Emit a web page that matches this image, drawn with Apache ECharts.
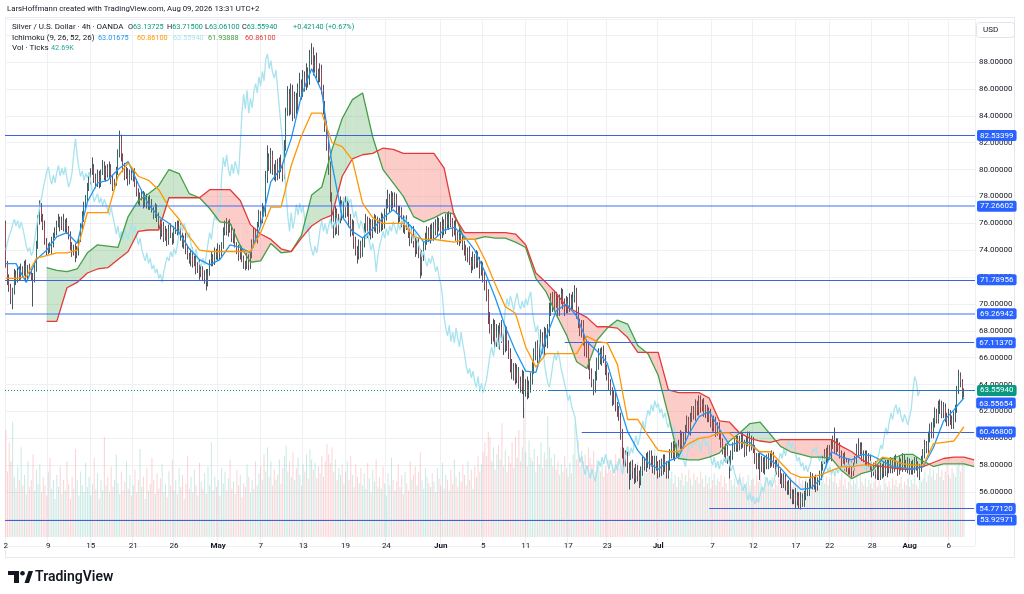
<!DOCTYPE html>
<html lang="en">
<head>
<meta charset="UTF-8">
<title>Silver / U.S. Dollar 4h</title>
<script src="https://cdn.jsdelivr.net/npm/echarts@6/dist/echarts.min.js"></script>
<style>
html,body{margin:0;padding:0;background:#fff;}
#chart{width:1024px;height:594px;}
</style>
</head>
<body>
<div id="chart"></div>
<script>
// 4h candles (open of each bar = close of the bar before)
var firstOpen = 76.0;
var closes = [
73.0,71.8,71.2,70.4,71.0,72.2,71.8,72.5,72.0,72.6,
72.3,72.9,72.1,72.7,72.4,72.0,71.9,72.6,74.4,76.2,
77.2,76.5,75.8,74.6,74.0,74.3,74.0,74.6,75.1,75.4,
75.9,76.3,75.8,76.2,75.6,76.1,75.6,75.0,74.3,73.9,
74.2,73.6,73.9,74.8,75.7,76.5,77.3,77.9,78.6,79.2,
79.8,80.2,79.4,78.9,79.6,79.0,79.8,80.3,79.5,80.1,
79.6,80.2,79.3,78.7,79.1,79.8,81.2,82.3,81.0,80.1,
79.5,79.9,79.2,79.7,79.4,79.8,79.1,78.3,77.6,77.9,
78.2,77.5,77.9,77.3,77.8,77.4,77.0,76.6,77.2,76.5,
75.9,75.2,75.8,74.9,75.4,74.7,75.6,75.1,74.8,75.5,
75.9,75.3,75.8,75.0,74.4,74.9,74.1,73.6,73.2,73.8,
73.0,73.4,72.6,72.9,72.3,72.6,71.9,72.2,71.6,72.4,
73.0,73.5,73.2,73.9,73.5,74.1,73.7,74.4,75.3,75.9,
75.4,76.0,75.5,74.9,75.3,74.4,74.0,73.6,74.1,73.3,
73.0,72.8,73.4,72.9,73.6,74.5,75.3,74.8,75.9,76.6,
76.2,77.1,76.8,79.4,80.9,80.2,81.1,80.0,79.5,80.4,
79.7,80.6,80.1,79.6,81.8,84.3,85.6,84.5,85.9,84.2,
85.3,84.6,85.8,86.4,85.7,86.9,86.2,87.3,86.6,88.2,
88.6,87.5,88.1,87.2,86.8,87.4,86.0,84.6,83.2,81.9,
80.1,78.0,76.5,75.4,76.8,75.6,76.3,77.4,76.6,77.5,
76.8,77.3,76.2,75.4,75.9,74.6,74.0,73.6,74.3,73.8,
74.6,75.6,76.2,75.4,76.0,75.2,75.8,76.3,75.6,76.1,
75.7,76.4,75.9,76.6,77.4,77.9,77.2,78.0,77.5,77.8,
77.0,76.4,76.9,76.1,75.6,76.2,75.8,75.3,74.8,75.4,
74.6,74.0,74.5,73.8,72.4,73.6,74.3,74.8,75.4,74.9,
75.6,75.1,75.8,75.4,76.1,75.7,75.2,76.0,75.5,76.3,
75.9,76.5,76.0,75.4,75.9,75.1,74.7,75.3,74.8,74.4,
74.0,73.5,73.9,73.2,72.8,73.4,73.0,73.6,73.1,72.4,
72.8,72.0,71.5,70.6,69.0,68.2,67.6,68.4,67.2,67.9,
67.1,68.2,67.5,66.8,67.9,67.0,66.3,65.4,64.8,65.2,
64.5,65.0,64.2,63.8,64.6,63.5,64.1,63.4,63.9,64.4,
65.3,66.2,66.8,66.1,66.9,67.5,66.7,67.8,67.2,68.0,
69.6,70.4,69.8,70.6,70.1,69.5,70.3,70.8,70.0,69.6,
70.2,69.7,70.4,69.9,70.5,70.9,69.4,68.6,67.9,68.4,
67.3,66.4,66.8,65.6,64.8,64.1,63.8,64.6,65.5,66.3,
65.8,66.5,65.9,65.1,64.6,64.0,63.5,62.8,63.2,62.4,
62.0,61.6,60.3,59.0,58.2,58.7,57.8,57.3,58.0,57.5,
57.0,57.7,57.2,56.8,57.6,58.3,57.9,58.6,58.1,58.8,
58.3,57.7,58.4,57.9,57.4,58.1,57.6,58.5,57.9,57.3,
58.0,58.8,59.4,58.7,59.3,58.9,59.6,60.2,59.5,60.0,
60.7,61.3,60.6,61.5,62.1,61.7,62.5,62.0,62.8,62.3,
62.6,61.9,62.2,61.5,61.9,61.2,60.8,61.3,60.5,60.9,
60.2,59.7,59.1,58.6,59.2,58.4,57.9,58.7,59.4,59.8,
59.3,59.9,59.5,60.1,59.6,59.0,59.7,60.2,59.4,59.8,
59.2,58.5,58.0,58.6,57.8,58.3,57.7,58.4,58.0,58.6,
58.2,58.7,58.1,57.6,58.0,57.4,57.0,56.6,57.1,56.5,
56.1,56.6,55.9,55.4,55.9,55.3,55.7,55.1,55.6,55.2,
55.8,56.4,56.0,56.7,57.1,56.5,56.9,56.4,56.8,57.3,
57.9,58.4,58.9,58.5,59.2,58.7,59.5,59.9,59.2,59.7,
59.3,58.8,58.3,58.6,57.9,58.2,57.6,58.0,57.5,57.9,
58.4,59.2,59.0,59.4,58.7,58.3,58.8,58.1,58.5,57.9,
57.5,57.9,57.3,57.7,57.2,57.8,57.4,58.0,57.5,58.1,
57.7,58.2,57.8,58.4,58.0,57.6,58.2,57.9,58.5,58.1,
57.8,58.2,57.6,58.0,57.7,58.3,57.9,57.5,57.8,58.4,
58.9,59.5,59.2,60.1,60.8,60.3,61.2,61.9,61.4,62.2,
62.5,61.8,62.3,61.6,61.2,61.8,61.4,61.0,61.6,62.2,
63.6,64.6,64.2,63.13725,63.5594
];
var wickUp = [
0.2,0.2,0.4,0.3,0.2,0.4,0.3,0.2,0.3,0.4, 0.2,0.3,0.4,0.2,0.3,0.2,0.3,0.4,0.3,0.4,
0.5,0.3,0.2,0.4,0.3,0.2,0.3,0.4,0.2,0.3, 0.3,0.4,0.2,0.3,0.5,0.2,0.3,0.2,0.4,0.3,
0.2,0.3,0.4,0.2,0.3,0.4,0.3,0.2,0.4,0.3, 0.3,0.7,0.2,0.3,0.4,0.3,0.2,0.4,0.3,0.2,
0.3,0.4,0.2,0.3,0.2,0.4,0.3,0.6,0.3,0.2, 0.4,0.3,0.2,0.3,0.4,0.2,0.3,0.2,0.3,0.4,
0.3,0.2,0.4,0.3,0.2,0.3,0.4,0.2,0.3,0.2, 0.3,0.4,0.2,0.3,0.4,0.2,0.3,0.4,0.2,0.3,
0.2,0.3,0.4,0.2,0.3,0.2,0.4,0.3,0.2,0.3, 0.4,0.2,0.3,0.2,0.4,0.3,0.2,0.3,0.4,0.2,
0.3,0.4,0.2,0.3,0.2,0.4,0.3,0.2,0.4,0.3, 0.5,0.2,0.3,0.4,0.2,0.3,0.2,0.4,0.3,0.2,
0.3,0.2,0.4,0.3,0.2,0.3,0.4,0.3,0.2,0.4, 0.3,0.4,0.2,0.5,0.9,0.3,0.5,0.3,0.4,0.3,
0.4,0.3,0.5,0.3,0.4,0.3,0.6,0.4,0.5,0.4, 0.5,0.4,0.6,0.8,0.3,0.5,0.4,0.6,0.3,0.7,
0.8,0.5,0.4,0.6,0.3,0.5,0.4,0.3,0.5,0.4, 0.4,0.5,0.3,0.4,0.5,0.3,0.4,0.6,0.3,0.4,
0.5,0.4,0.3,0.5,0.4,0.3,0.4,0.3,0.5,0.4, 0.3,0.4,0.5,0.3,0.4,0.3,0.5,0.4,0.3,0.4,
0.3,0.4,0.3,0.5,0.4,0.6,0.3,0.4,0.3,0.5, 0.4,0.3,0.4,0.3,0.5,0.3,0.4,0.3,0.4,0.3,
0.4,0.3,0.5,0.4,0.3,0.4,0.3,0.5,0.4,0.3, 0.3,0.4,0.3,0.5,0.4,0.3,0.4,0.5,0.3,0.4,
0.5,0.4,0.3,0.4,0.3,0.4,0.3,0.4,0.3,0.4, 0.3,0.4,0.3,0.4,0.3,0.5,0.3,0.4,0.3,0.4,
0.4,0.3,0.4,0.3,0.5,0.4,0.3,0.5,0.4,0.6, 0.5,0.4,0.6,0.3,0.5,0.4,0.3,0.4,0.5,0.4,
0.4,0.5,0.3,0.4,0.5,0.4,0.3,0.5,0.4,0.5, 0.4,0.5,0.4,0.5,0.4,0.6,0.4,0.5,0.4,0.5,
0.5,0.4,0.5,0.4,0.3,0.5,0.4,0.4,0.3,0.4, 0.4,0.3,0.4,0.3,0.4,0.5,0.3,0.4,0.3,0.4,
0.4,0.3,0.5,0.4,0.3,0.4,0.3,0.4,0.5,0.4, 0.4,0.3,0.4,0.3,0.4,0.3,0.4,0.3,0.4,0.3,
0.3,0.4,0.3,0.4,0.3,0.4,0.3,0.4,0.3,0.4, 0.3,0.4,0.3,0.4,0.3,0.4,0.3,0.3,0.4,0.3,
0.3,0.4,0.3,0.3,0.4,0.3,0.4,0.3,0.3,0.4, 0.3,0.4,0.3,0.4,0.3,0.4,0.3,0.4,0.3,0.4,
0.3,0.4,0.3,0.4,0.3,0.3,0.4,0.3,0.4,0.4, 0.3,0.4,0.3,0.3,0.4,0.3,0.3,0.4,0.3,0.3,
0.3,0.4,0.3,0.3,0.4,0.3,0.3,0.4,0.3,0.3, 0.4,0.3,0.3,0.4,0.3,0.3,0.4,0.3,0.3,0.4,
0.3,0.3,0.4,0.3,0.3,0.4,0.3,0.3,0.4,0.3, 0.3,0.4,0.3,0.3,0.4,0.3,0.3,0.4,0.3,0.3,
0.3,0.3,0.4,0.3,0.3,0.4,0.3,0.3,0.4,0.3, 0.3,0.4,0.3,0.3,0.4,0.3,0.3,0.4,0.3,0.3,
0.4,0.3,0.3,0.4,0.3,0.3,0.4,0.3,0.9,0.3, 0.3,0.4,0.3,0.3,0.4,0.3,0.3,0.4,0.3,0.3,
0.3,0.4,0.8,0.3,0.3,0.4,0.3,0.3,0.4,0.3, 0.3,0.3,0.4,0.3,0.3,0.4,0.3,0.3,0.4,0.3,
0.3,0.4,0.3,0.3,0.4,0.3,0.5,0.3,0.4,0.3, 0.3,0.4,0.3,0.3,0.4,0.3,0.3,0.4,0.3,0.3,
0.3,0.4,0.3,0.4,0.3,0.4,0.3,0.4,0.3,0.6, 0.4,0.3,0.4,0.3,0.3,0.4,0.3,0.3,0.4,0.3,
0.3,0.5,0.3,0.2,0.1556
];
var wickDown = [
0.3,0.4,0.3,0.4,0.8,0.3,0.4,0.2,0.3,0.2, 0.3,0.2,0.4,0.3,0.2,0.3,2.1,0.3,0.2,0.3,
0.3,0.4,0.3,0.2,0.4,0.3,0.2,0.3,0.4,0.2, 0.3,0.2,0.4,0.3,0.2,0.3,0.4,0.2,0.3,0.4,
0.3,0.5,0.2,0.3,0.2,0.3,0.4,0.2,0.3,0.2, 0.3,0.2,0.4,0.3,0.2,0.4,0.3,0.2,0.3,0.4,
0.2,0.3,0.4,0.3,0.2,0.3,0.2,0.3,0.4,0.3, 0.3,0.2,0.4,0.3,0.2,0.3,0.4,0.3,0.2,0.3,
0.2,0.4,0.3,0.2,0.3,0.4,0.2,0.3,0.2,0.4, 0.3,0.4,0.2,0.3,0.2,0.4,0.3,0.2,0.4,0.3,
0.3,0.2,0.4,0.3,0.2,0.3,0.4,0.3,0.2,0.4, 0.3,0.2,0.4,0.3,0.5,0.3,0.2,0.4,0.6,0.3,
0.3,0.2,0.4,0.3,0.2,0.3,0.4,0.2,0.3,0.2, 0.3,0.4,0.2,0.3,0.4,0.2,0.3,0.4,0.3,0.2,
0.4,0.3,0.2,0.4,0.3,0.2,0.3,0.2,0.3,0.2, 0.3,0.2,0.3,0.3,0.4,0.3,0.5,0.4,0.3,0.4,
0.5,0.4,0.3,0.5,0.3,0.4,0.3,0.5,0.4,0.6, 0.4,0.5,0.3,0.4,0.5,0.3,0.4,0.3,0.5,0.3,
0.4,0.5,0.3,0.4,0.5,0.3,0.4,0.5,0.4,0.5, 0.5,0.4,0.6,0.5,0.3,0.4,0.5,0.3,0.4,0.3,
0.4,0.3,0.5,0.4,0.3,0.5,0.4,0.6,0.3,0.4, 0.3,0.4,0.3,0.5,0.3,0.4,0.3,0.4,0.3,0.4,
0.4,0.3,0.4,0.3,0.4,0.3,0.4,0.3,0.4,0.3, 0.3,0.4,0.3,0.4,0.3,0.4,0.3,0.4,0.5,0.3,
0.4,0.5,0.3,0.4,0.5,0.3,0.4,0.3,0.4,0.3, 0.4,0.3,0.4,0.3,0.4,0.3,0.4,0.3,0.4,0.3,
0.3,0.4,0.3,0.4,0.3,0.4,0.3,0.4,0.3,0.4, 0.4,0.3,0.4,0.3,0.5,0.3,0.4,0.3,0.4,0.5,
0.3,0.4,0.5,0.4,0.5,0.4,0.6,0.4,0.5,0.4, 0.4,0.5,0.4,0.6,0.4,0.5,0.4,0.5,0.4,0.5,
0.5,0.4,0.5,0.4,0.5,2.0,0.4,0.5,0.4,0.5, 0.4,0.5,0.4,0.5,0.4,0.5,0.4,0.5,0.4,0.5,
0.4,0.5,0.4,0.3,0.4,0.5,0.4,0.3,0.4,0.5, 0.3,0.4,0.3,0.4,0.3,0.4,0.5,0.4,0.3,0.4,
0.4,0.3,0.4,0.5,0.4,0.3,0.6,0.4,0.3,0.4, 0.3,0.4,0.3,0.4,0.3,0.4,0.3,0.4,0.3,0.4,
0.4,0.3,0.4,0.5,0.4,0.3,0.4,1.1,0.4,0.5, 0.4,0.3,0.4,0.5,0.3,0.4,0.3,0.4,0.3,0.4,
0.4,0.3,0.4,0.3,0.4,0.3,0.4,0.3,0.4,0.3, 0.3,0.4,0.3,0.3,0.4,0.3,0.3,0.4,0.3,0.3,
0.4,0.3,0.3,0.4,0.3,0.3,0.4,0.3,0.3,0.4, 0.3,0.3,0.4,0.3,0.3,0.4,0.3,0.3,0.4,0.3,
0.3,0.4,0.3,0.3,0.4,0.3,0.9,0.3,0.3,0.4, 0.3,0.3,0.4,0.3,0.3,0.4,0.3,0.3,0.4,0.3,
0.3,0.4,0.3,0.3,0.9,0.3,0.3,0.4,0.3,0.3, 0.4,0.3,0.3,0.4,0.3,0.3,0.4,0.3,0.3,0.4,
0.3,0.3,0.4,0.3,0.3,0.5,0.3,0.3,0.4,0.3, 0.3,0.4,0.3,0.3,0.4,0.3,0.3,0.4,0.3,0.3,
0.4,0.3,0.3,0.4,0.3,0.3,0.4,0.3,0.3,0.4, 0.3,0.3,0.4,0.3,0.3,0.4,0.3,0.3,0.4,0.3,
0.3,0.4,0.3,0.3,0.4,0.3,0.3,0.4,0.3,0.3, 0.4,0.3,0.3,0.4,0.3,0.3,0.4,0.3,0.3,0.4,
0.3,0.3,0.4,0.3,0.3,0.4,0.3,0.3,0.4,0.3, 0.3,0.4,0.3,0.3,0.4,0.3,0.3,0.4,0.6,0.3,
0.3,0.4,0.3,0.3,0.4,0.3,0.3,0.4,0.3,0.3, 0.4,0.3,0.3,0.4,0.3,0.3,0.4,0.3,0.3,0.4,
0.3,0.3,0.4,0.3,0.0762
];
// volume in thousands of ticks
var volumes = [
62,38,55,44,67,35,28,41,33,52, 30,36,25,44,29,33,48,27,39,31, 42,26,35,30,24,38,46,28,33,22,
36,29,41,25,33,27,44,31,22,35, 28,51,33,24,38,30,26,43,29,35, 24,31,46,28,37,22,33,27,58,30,
35,26,41,29,33,48,31,25,38,27, 32,44,28,36,24,30,39,26,33,51, 29,35,22,40,27,31,46,33,25,37,
28,34,42,26,31,23,38,30,45,27, 33,25,40,29,36,22,31,47,28,35, 26,39,30,24,43,32,28,37,25,41,
30,55,27,35,29,33,24,40,31,38, 27,34,45,28,32,25,39,30,36,23, 31,29,42,35,26,33,28,44,30,37,
41,33,48,38,52,35,44,30,39,33, 36,45,31,40,47,53,38,44,35,49, 33,40,46,36,30,42,38,48,34,51,
45,39,43,34,41,37,47,35,44,54, 48,43,52,38,45,33,40,36,42,31, 38,44,33,47,36,29,42,35,31,40,
30,37,28,43,34,26,39,32,45,29, 35,28,41,31,24,37,30,46,33,27, 32,42,29,36,25,38,31,27,44,33,
36,41,30,38,49,33,28,40,35,31, 29,37,32,26,40,34,30,43,28,36, 33,27,39,31,45,35,29,38,32,42,
36,30,44,33,39,28,41,35,47,38, 42,49,55,47,61,58,44,52,39,48, 53,45,66,41,50,38,47,43,55,40,
58,46,62,44,52,75,49,41,56,46, 44,51,38,47,42,55,40,49,45,70, 52,46,41,48,39,44,36,42,38,47,
40,35,43,37,48,66,45,56,41,50, 44,48,39,52,46,42,50,38,45,41, 38,43,35,41,37,45,39,42,36,48,
44,40,52,46,50,43,47,41,45,39, 42,36,44,38,41,35,43,37,40,46, 50,38,53,41,36,44,39,47,42,35,
40,34,38,31,36,29,35,33,37,30, 36,32,39,34,30,37,33,35,31,38, 34,29,36,31,35,28,33,37,30,34,
32,36,29,35,31,27,38,33,30,34, 29,33,37,31,35,28,32,36,30,33, 34,30,36,32,38,31,29,35,33,30,
31,35,28,33,30,34,29,36,32,28, 33,30,35,29,32,36,30,34,31,33, 30,34,29,33,31,28,35,30,32,29,
33,37,31,35,30,34,38,32,36,31, 29,33,37,30,34,28,32,36,30,33, 31,35,28,37,32,30,34,29,33,31,
28,32,35,29,33,30,27,34,31,29, 32,28,34,30,33,29,31,35,28,32, 30,34,29,33,31,36,30,28,35,32,
34,38,32,36,40,35,39,33,37,41, 35,39,33,38,42,36,34,40,37,35, 41,43,38,44,42.69
];

// Ichimoku lines, one value every ichiStep bars
var ichiStep = 6;
var tenkan = [
73.0,73.0,71.6,73.3,74.0,75.0,75.3,74.5,77.6,79.0,79.2,80.0,80.6,78.9,77.4,76.5,
76.0,75.3,74.1,73.3,72.9,73.3,74.4,74.2,73.8,75.8,79.1,80.1,82.3,85.5,87.5,85.8,80.4,
76.5,75.4,74.9,75.6,76.4,77.0,76.3,75.6,74.6,74.8,75.5,75.7,75.0,74.0,72.4,70.5,
68.3,66.5,65.0,64.9,67.5,69.5,70.0,69.1,67.2,66.5,65.6,63.0,60.5,59.1,58.2,57.7,
58.3,58.6,60.3,61.6,62.0,60.7,59.5,59.7,59.7,58.9,58.4,57.8,56.9,56.2,56.3,57.0,
59.0,58.6,58.4,58.8,58.7,58.3,57.9,57.8,57.7,57.9,59.3,61.3,62.1,63.01675
];
var kijun = [
71.9,71.9,72.0,73.4,73.6,73.8,73.8,74.0,76.8,76.8,76.8,79.5,80.5,79.5,79.2,78.5,
77.2,76.3,75.0,74.0,73.9,73.9,73.9,73.9,73.9,75.3,77.2,77.2,80.3,82.5,84.2,84.2,82.0,
81.7,80.7,77.5,76.4,76.0,76.0,76.0,75.0,74.8,74.8,74.7,74.6,74.8,74.8,73.3,71.5,
69.8,69.3,66.8,65.3,66.3,66.3,66.3,66.3,67.6,67.2,67.1,65.5,61.4,61.4,60.2,59.1,
59.0,59.0,59.6,60.0,60.1,60.4,60.4,59.7,59.5,59.0,59.0,58.2,57.4,57.1,57.1,57.3,
57.6,57.9,57.9,58.0,58.0,58.6,58.4,58.1,58.0,58.0,59.6,59.7,59.8,60.861
];
var spanA = [
null,null,null,null,72.7,72.5,72.4,72.6,73.8,74.4,74.3,74.2,76.5,77.7,78.2,78.8,
80.0,79.7,78.2,77.9,77.1,76.1,76.0,74.3,73.1,73.2,74.5,73.8,73.9,75.1,78.1,78.7,81.5,
83.8,85.2,85.7,82.4,80.0,79.0,78.0,76.5,76.1,76.4,76.8,76.7,74.8,74.8,75.0,74.9,
74.9,74.6,74.2,71.9,70.9,69.2,67.7,65.7,65.2,67.3,68.2,68.8,68.5,66.9,66.3,64.7,
61.7,58.5,58.4,58.4,58.6,58.9,59.8,60.4,61.1,61.2,60.3,59.4,59.0,58.8,58.6,58.6,
58.5,57.6,57.0,57.4,57.6,58.5,58.5,58.8,58.8,58.3,57.9,58.1,58.1,58.1,57.9
];
var spanB = [
null,null,null,null,68.7,68.7,71.2,71.6,72.3,72.6,72.7,73.3,73.9,75.4,75.5,75.5,
77.9,77.9,77.9,77.9,78.5,78.5,78.5,77.7,75.9,75.2,74.8,74.1,73.9,74.9,75.8,76.3,76.6,
79.5,80.8,81.1,81.2,81.6,81.5,81.2,81.2,81.2,81.2,80.1,76.5,75.3,75.3,75.3,75.3,
75.3,75.2,74.4,72.3,71.6,70.8,69.8,69.4,69.0,68.3,68.3,68.2,67.5,66.4,66.4,66.4,
63.6,63.4,63.4,63.4,63.0,61.3,61.2,60.4,60.0,59.8,59.7,59.9,59.9,59.9,59.9,59.9,
59.9,59.4,59.0,58.4,58.0,57.9,57.8,57.7,57.7,57.9,58.2,58.5,58.6,58.6,58.4
];
var chikouShift = 26;

// drawn horizontal levels and the bar where a short one starts
var levels = [82.53399, 77.26602, 71.78956, 69.26942, 67.11370, 63.55654, 60.46800, 54.77120, 53.92971];
var levelFromBar = [null, null, null, null, 329, 319, 339, 414, null];
var lastPrice = 63.5594;

var dayLabels = ['2','9','15','21','26','May','7','13','19','24','Jun','5','11','17','23','Jul','7','12','17','22','28','Aug','6'];
var dayLabelBars = [0,25,50,75,99,125,150,175,200,224,256,281,306,331,354,384,416,440,465,485,510,532,555];

(function () {
    var slotCount = 571;   // bars plus the cloud's look-ahead
    var cats = [];
    for (var i = 0; i < slotCount; i++) cats.push(String(i));
    var labelAt = {};
    dayLabelBars.forEach(function (b, i) { labelAt[b] = dayLabels[i]; });
    var months = { May: 1, Jun: 1, Jul: 1, Aug: 1 };

    var UP = '#089981', DOWN = '#f23645', WICK = '#50535e';
    var GREEN_FILL = 'rgba(67,160,71,0.27)', RED_FILL = 'rgba(244,67,54,0.27)';
    var wicks = [], bodies = [], volData = [];
    for (var j = 0; j < closes.length; j++) {
        var o = j === 0 ? firstOpen : closes[j - 1];
        var c = closes[j];
        var hiBody = Math.max(o, c), loBody = Math.min(o, c);
        wicks.push([o, c, loBody - wickDown[j], hiBody + wickUp[j]]);
        bodies.push([o, c, loBody, hiBody]);
        volData.push({ value: volumes[j], itemStyle: { color: c >= o ? 'rgba(8,153,129,0.22)' : 'rgba(242,54,69,0.22)' } });
    }

    function sampled(arr) {
        var out = [];
        arr.forEach(function (v, k) { if (v != null) out.push([k * ichiStep, v]); });
        return out;
    }
    // one cloud piece per pair of neighbouring samples
    var cloudSeg = [];
    for (var k = 0; k + 1 < spanA.length; k++) {
        if (spanA[k] == null || spanB[k] == null) continue;
        cloudSeg.push([k * ichiStep, spanA[k], spanB[k], (k + 1) * ichiStep, spanA[k + 1], spanB[k + 1]]);
    }
    function renderCloud(params, api) {
        var x0 = api.value(0), a0 = api.value(1), b0 = api.value(2);
        var x1 = api.value(3), a1 = api.value(4), b1 = api.value(5);
        var d0 = a0 - b0, d1 = a1 - b1;
        var kids = [];
        function poly(pts, green) {
            kids.push({ type: 'polygon', shape: { points: pts.map(function (p) { return api.coord(p); }) },
                style: { fill: green ? GREEN_FILL : RED_FILL } });
        }
        if (d0 * d1 >= 0) {
            poly([[x0, a0], [x1, a1], [x1, b1], [x0, b0]], (d0 + d1) >= 0);
        } else {
            var t = d0 / (d0 - d1), xm = x0 + t * (x1 - x0), ym = a0 + t * (a1 - a0);
            poly([[x0, a0], [xm, ym], [x0, b0]], d0 > 0);
            poly([[xm, ym], [x1, a1], [x1, b1]], d1 > 0);
        }
        return { type: 'group', children: kids };
    }
    var chikou = closes.slice(chikouShift);

    var BLUE = '#2962ff';
    var boxLabel = {
        show: true, position: 'end', distance: 2, color: '#fff', backgroundColor: BLUE,
        padding: [2, 3, 1, 3], borderRadius: 2, fontSize: 8, fontFamily: 'Roboto'
    };
    var markData = [];
    levels.forEach(function (v, i) {
        var soft = (i === 1 || i === 3);
        var ls = { color: soft ? 'rgba(41,98,255,0.45)' : '#3a63dc', width: soft ? 2.2 : 1, type: 'solid' };
        var lab = { formatter: v.toFixed(5) };
        if (i === 5) {
            // pushed below the last-price tag
            lab = {
                formatter: '{g| }\n{b|' + v.toFixed(5) + '}', backgroundColor: 'transparent', padding: 0,
                rich: { g: { height: 25 }, b: { backgroundColor: BLUE, color: '#fff', padding: [2, 3, 1, 3], borderRadius: 2, fontSize: 8, fontFamily: 'Roboto' } }
            };
        }
        if (levelFromBar[i] == null) {
            markData.push({ yAxis: v, lineStyle: ls, label: lab });
        } else {
            markData.push([{ coord: [levelFromBar[i], v], lineStyle: ls, label: lab }, { coord: [slotCount - 1, v] }]);
        }
    });
    markData.push({ yAxis: lastPrice, lineStyle: { color: UP, type: [1, 2], width: 1 },
        label: { formatter: lastPrice.toFixed(5), backgroundColor: UP } });

    var FONT = 'Roboto, "Noto Sans", sans-serif';
    var DARK = '#131722';
    // parts: [text, colour, font size]
    function txt(x, y, parts) {
        var s = '', rich = {};
        parts.forEach(function (p, n) {
            s += '{p' + n + '|' + p[0] + '}';
            rich['p' + n] = { fill: p[1], font: (p[2] || 8) + 'px ' + FONT };
        });
        return { type: 'text', x: x, y: y, z: 100, silent: true, style: { text: s, rich: rich, font: '8px ' + FONT, verticalAlign: 'middle' } };
    }
    var V = 7.3;

    var chart = echarts.init(document.getElementById('chart'));
    chart.setOption({
        animation: false,
        backgroundColor: '#ffffff',
        grid: [
            { left: 5, right: 49, top: 19, bottom: 48.16 },
            { left: 5, right: 49, top: 337, bottom: 57 }
        ],
        xAxis: [
            { type: 'category', gridIndex: 0, data: cats, boundaryGap: true,
              axisLine: { show: false }, axisTick: { show: false }, axisLabel: { show: false },
              splitLine: { show: true, interval: function (idx) { return labelAt[idx] !== undefined; }, lineStyle: { color: '#eef0f4', width: 1 } } },
            { type: 'value', gridIndex: 0, min: -0.5, max: slotCount - 0.5, show: false, splitLine: { show: false } },
            { type: 'category', gridIndex: 1, data: cats, boundaryGap: true,
              axisLine: { show: false }, axisTick: { show: false }, splitLine: { show: false },
              axisLabel: {
                  interval: function (idx) { return labelAt[idx] !== undefined; },
                  formatter: function (v) { var t = labelAt[+v]; return months[t] ? '{m|' + t + '}' : t; },
                  color: DARK, fontSize: 8, fontFamily: FONT, margin: 5,
                  rich: { m: { fontWeight: 'bold', fontSize: 8, color: DARK, fontFamily: FONT } }
              } }
        ],
        yAxis: [
            { type: 'value', gridIndex: 0, position: 'right', min: 52, max: 91.2, interval: 2,
              axisLine: { show: false }, axisTick: { show: false },
              axisLabel: { color: DARK, fontSize: 8, fontFamily: FONT, margin: 4, showMaxLabel: false,
                  formatter: function (v) { return (v >= 56 && v <= 88) ? v.toFixed(5) : ''; } },
              splitLine: { lineStyle: { color: '#eef0f4', width: 1 } } },
            { type: 'value', gridIndex: 1, min: 0, max: 116, show: false, splitLine: { show: false } }
        ],
        series: [
            { name: 'Vol', type: 'bar', xAxisIndex: 2, yAxisIndex: 1, data: volData, barWidth: 1, z: 1, silent: true },
            { name: 'wicks', type: 'candlestick', xAxisIndex: 0, yAxisIndex: 0, data: wicks, barWidth: 0.4, z: 2, silent: true,
              itemStyle: { color: WICK, color0: WICK, borderColor: WICK, borderColor0: WICK, borderWidth: 1 } },
            { name: 'bodies', type: 'candlestick', xAxisIndex: 0, yAxisIndex: 0, data: bodies, barWidth: 1.3, z: 2, silent: true,
              itemStyle: { color: UP, color0: DOWN, borderColor: UP, borderColor0: DOWN, borderWidth: 0.5 } },
            { name: 'cloud', type: 'custom', xAxisIndex: 1, yAxisIndex: 0, data: cloudSeg, renderItem: renderCloud,
              encode: { x: [0, 3], y: [1, 2, 4, 5] }, z: 3, silent: true },
            { name: 'Lagging', type: 'line', xAxisIndex: 0, yAxisIndex: 0, data: chikou, showSymbol: false,
              lineStyle: { color: '#a8e3ee', width: 1.3 }, z: 4, silent: true },
            { name: 'Span A', type: 'line', xAxisIndex: 1, yAxisIndex: 0, data: sampled(spanA), showSymbol: false,
              lineStyle: { color: '#43a047', width: 1.3 }, z: 4, silent: true },
            { name: 'Span B', type: 'line', xAxisIndex: 1, yAxisIndex: 0, data: sampled(spanB), showSymbol: false,
              lineStyle: { color: '#e53935', width: 1.3 }, z: 4, silent: true },
            { name: 'Conversion', type: 'line', xAxisIndex: 1, yAxisIndex: 0, data: sampled(tenkan), showSymbol: false,
              lineStyle: { color: '#2196f3', width: 1.3 }, z: 4, silent: true },
            { name: 'Base', type: 'line', xAxisIndex: 1, yAxisIndex: 0, data: sampled(kijun), showSymbol: false,
              lineStyle: { color: '#ff9800', width: 1.3 }, z: 5, silent: true,
              markLine: { silent: true, symbol: ['none', 'none'], animation: false, label: boxLabel, data: markData } }
        ],
        graphic: [
            { type: 'rect', shape: { x: 5.5, y: 17.5, width: 1009, height: 540 }, style: { fill: 'none', stroke: '#e6e8ee', lineWidth: 1 }, z: 0, silent: true },
            txt(7, 9.5, [['LarsHoffmann created with TradingView.com, Aug 09, 2026 13:31 UTC+2', DARK, 7.8]]),
            txt(12, 26.7, [['Silver / U.S. Dollar · 4h · OANDA', DARK, 8]]),
            txt(128, 26.7, [['O', DARK, V], ['63.13725', UP, V]]),
            txt(167, 26.7, [['H', DARK, V], ['63.71500', UP, V]]),
            txt(205, 26.7, [['L', DARK, V], ['63.06100', UP, V]]),
            txt(242, 26.7, [['C', DARK, V], ['63.55940', UP, V]]),
            txt(293, 26.7, [['+0.42140 (+0.67%)', UP, V]]),
            txt(12, 37.7, [['Ichimoku (9, 26, 52, 26)', DARK, 8]]),
            txt(98, 37.7, [['63.01675', '#2196f3', V]]),
            txt(137, 37.7, [['60.86100', '#ff9800', V]]),
            txt(173, 37.7, [['63.55940', '#a8e3ee', V]]),
            txt(208, 37.7, [['61.93888', '#43a047', V]]),
            txt(245, 37.7, [['60.86100', '#e53935', V]]),
            txt(12, 48.3, [['Vol · Ticks', DARK, 8]]),
            txt(51, 48.3, [['42.69K', '#26a69a', V]]),
            { type: 'rect', shape: { x: 976.5, y: 22.5, width: 38, height: 15, r: 3 }, style: { fill: '#fff', stroke: '#e0e3eb', lineWidth: 1 }, z: 100, silent: true },
            txt(983, 30, [['USD', DARK, 8]]),
            { type: 'rect', shape: { x: 8, y: 571, width: 11, height: 4 }, style: { fill: DARK }, z: 100, silent: true },
            { type: 'rect', shape: { x: 14, y: 571, width: 5, height: 12 }, style: { fill: DARK }, z: 100, silent: true },
            { type: 'circle', shape: { cx: 22.5, cy: 573.2, r: 2.3 }, style: { fill: DARK }, z: 100, silent: true },
            { type: 'polygon', shape: { points: [[24.5, 583], [28.5, 571], [33, 571], [29, 583]] }, style: { fill: DARK }, z: 100, silent: true },
            { type: 'text', x: 35, y: 577.5, z: 100, silent: true, style: { text: 'TradingView', fill: DARK, font: '600 14px ' + FONT, verticalAlign: 'middle' } }
        ]
    });
})();
</script>
</body>
</html>
